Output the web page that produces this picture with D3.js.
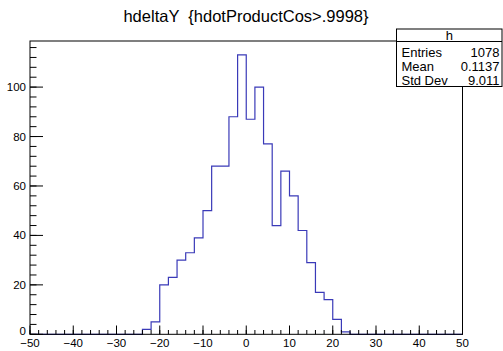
<!DOCTYPE html>
<html><head><meta charset="utf-8">
<script src="https://cdn.jsdelivr.net/npm/d3@7"></script>
<style>body{margin:0;background:#fff}svg{display:block}text{font-family:"Liberation Sans",Arial,sans-serif;white-space:pre}</style>
</head><body>
<script>
const title = "hdeltaY  {hdotProductCos>.9998}";
const xMin = -50, xMax = 50;
const counts = [0,0,0,0,0,0,0,0,0,0,0,0,0,
  2,5,20,23,30,33,39,50,68,68,88,113,87,100,77,44,66,56,42,29,17,14,6,1,
  0,0,0,0,0,0,0,0,0,0,0,0,0];
const xTicks = [-50,-40,-30,-20,-10,0,10,20,30,40,50];
const yTicks = [0,20,40,60,80,100];
const statsName = "h";
const statsLabels = ["Entries","Mean","Std Dev"];
const statsValues = ["1078","0.1137","9.011"];

const W=503,H=351;
const L=30,R=462.5,T=41,B=334.3;
const svg=d3.select("body").append("svg").attr("width",W).attr("height",H);
const nb=counts.length, bw=(xMax-xMin)/nb;
const x=d3.scaleLinear().domain([xMin,xMax]).range([L,R]);
const y=d3.scaleLinear().domain([0,d3.max(counts)*1.05]).range([B,T]);

// histogram outline
let pts=[[xMin,0]];
counts.forEach((c,i)=>{pts.push([xMin+i*bw,c]);pts.push([xMin+(i+1)*bw,c]);});
pts.push([xMax,0]);
const line=d3.line().x(d=>x(d[0])).y(d=>y(d[1])).curve(d3.curveLinear);
svg.append("path").attr("d",line(pts)).attr("fill","none").attr("stroke","#3a3ab8").attr("stroke-width",1.2);

// frame
svg.append("rect").attr("x",L).attr("y",T).attr("width",R-L).attr("height",B-T).attr("fill","none").attr("stroke","#000").attr("stroke-width",1);

// x axis
const gx=svg.append("g");
const xMinor=d3.range(xMin,xMax+0.001,2);
gx.selectAll("line.mn").data(xMinor).join("line").attr("x1",d=>x(d)).attr("x2",d=>x(d)).attr("y1",B).attr("y2",B-4.3).attr("stroke","#000");
gx.selectAll("line.mj").data(xTicks).join("line").attr("x1",d=>x(d)).attr("x2",d=>x(d)).attr("y1",B).attr("y2",B-8.8).attr("stroke","#000");
gx.selectAll("text").data(xTicks).join("text").attr("x",d=>x(d)).attr("y",347).attr("text-anchor","middle").attr("font-size",11.5).attr("fill","#000")
  .text(d=>d<0?"\u2212"+Math.abs(d):String(d));

// y axis
const gy=svg.append("g");
const yMinor=d3.range(0,y.domain()[1],4);
gy.selectAll("line.mn").data(yMinor).join("line").attr("y1",d=>y(d)).attr("y2",d=>y(d)).attr("x1",L).attr("x2",L+6.5).attr("stroke","#000");
gy.selectAll("line.mj").data(yTicks).join("line").attr("y1",d=>y(d)).attr("y2",d=>y(d)).attr("x1",L).attr("x2",L+13).attr("stroke","#000");
gy.selectAll("text").data(yTicks).join("text").attr("x",26).attr("y",d=>y(d)+4).attr("text-anchor","end").attr("font-size",11.5).attr("fill","#000")
  .attr("dy",d=>d===0?-3.5:0).text(d=>d);

// title
svg.append("text").attr("x",246).attr("y",21.5).attr("text-anchor","middle").attr("font-size",16.5).attr("xml:space","preserve").text(title);

// stats box
const sx=396.5,sy=29,sw=105.5,sh=57.5;
svg.append("rect").attr("x",sx).attr("y",sy).attr("width",sw).attr("height",sh).attr("fill","#fff").attr("stroke","#000").attr("stroke-width",1);
svg.append("line").attr("x1",sx).attr("x2",sx+sw).attr("y1",41.5).attr("y2",41.5).attr("stroke","#000");
svg.append("text").attr("x",sx+sw/2).attr("y",39.5).attr("text-anchor","middle").attr("font-size",13).text(statsName);
statsLabels.forEach((s,i)=>{
  svg.append("text").attr("x",401.5).attr("y",56.5+i*14).attr("font-size",13).text(s);
  svg.append("text").attr("x",499.5).attr("y",56.5+i*14).attr("text-anchor","end").attr("font-size",13).text(statsValues[i]);
});
</script>
</body></html>
